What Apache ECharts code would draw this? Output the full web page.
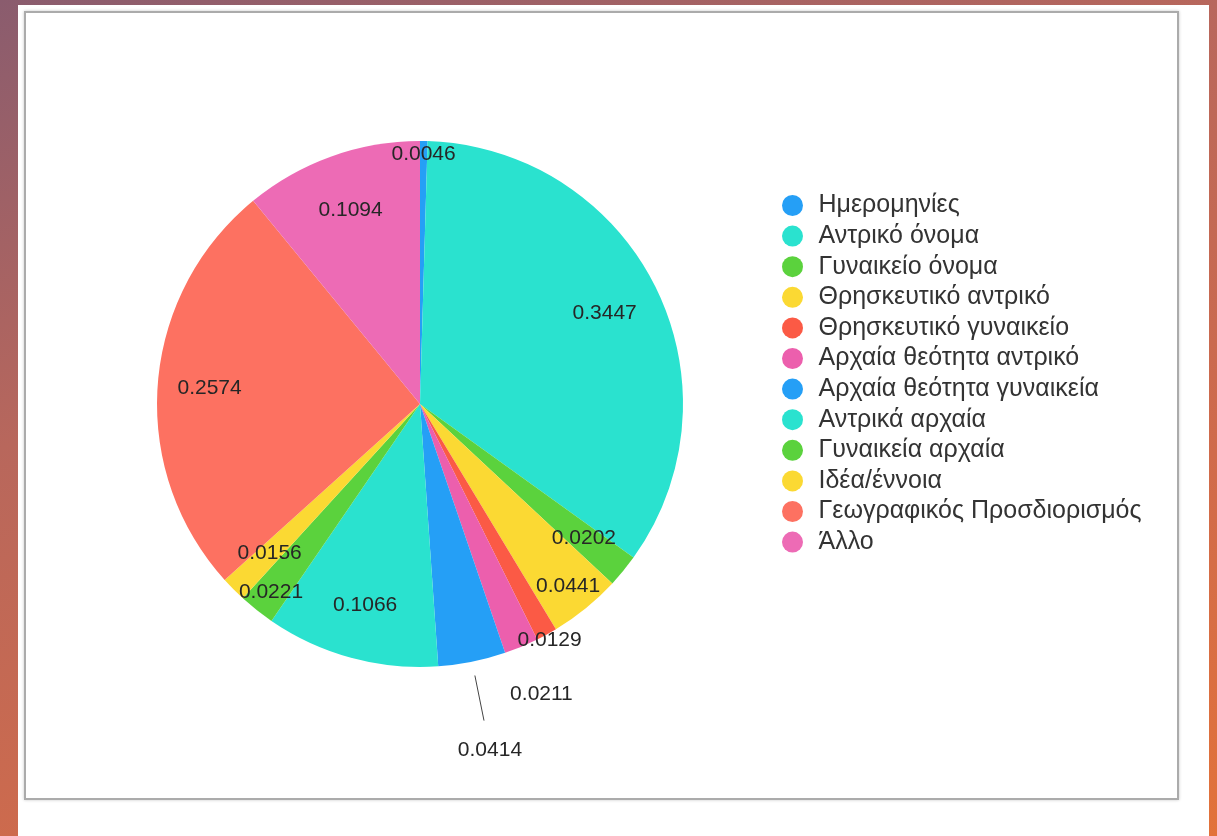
<!DOCTYPE html>
<html lang="el">
<head>
<meta charset="UTF-8">
<title>Pie</title>
<script src="https://cdn.jsdelivr.net/npm/echarts@6/dist/echarts.min.js"></script>
<style>
  html, body { margin: 0; padding: 0; }
  body {
    width: 1217px; height: 836px; overflow: hidden; position: relative;
    background: linear-gradient(160deg, #8a5c6e 0%, #b8675c 35%, #d06b4b 70%, #e2723a 100%);
  }
  .sheet { position: absolute; left: 18px; top: 5px; width: 1191px; height: 831px; background: #fff; }
  .frame {
    position: absolute; left: 24px; top: 11px; width: 1151px; height: 785px;
    border: 2px solid #ababab; box-shadow: 0 0 3px rgba(0,0,0,0.22);
  }
  #chart { position: absolute; left: 0; top: 0; width: 1217px; height: 836px; }
</style>
</head>
<body>
<div class="sheet"></div>
<div class="frame"></div>
<div id="chart"></div>
<script>
// δεδομένα
const categories = [
  'Ημερομηνίες', 'Αντρικό όνομα', 'Γυναικείο όνομα', 'Θρησκευτικό αντρικό',
  'Θρησκευτικό γυναικείο', 'Αρχαία θεότητα αντρικό', 'Αρχαία θεότητα γυναικεία',
  'Αντρικά αρχαία', 'Γυναικεία αρχαία', 'Ιδέα/έννοια', 'Γεωγραφικός Προσδιορισμός', 'Άλλο'
];
const values = [0.0046, 0.3447, 0.0202, 0.0441, 0.0129, 0.0211, 0.0414, 0.1066, 0.0221, 0.0156, 0.2574, 0.1094];
const colors = ['#259ff6', '#2ae2cf', '#5bd23d', '#fbd933', '#fb5a45', '#ec5fad',
                '#259ff6', '#2ae2cf', '#5bd23d', '#fbd933', '#fd7161', '#ed6bb5'];

// πόσο μακριά από το κέντρο μπαίνει κάθε ετικέτα
const labelRadius = [247, 203, 209, 232, 266, 312, 350, 206, 237, 209, 208, 203];

const center = [420, 404];
const R = 263;
const font = 'Liberation Sans, Arial, sans-serif';

const pieData = categories.map((name, i) => ({
  name, value: values[i], itemStyle: { color: colors[i] }
}));

const series = [{
  type: 'pie',
  center, radius: [0, R],
  startAngle: 90, clockwise: true,
  silent: true,
  label: { show: false }, labelLine: { show: false },
  data: pieData
}];

// μια διάφανη σειρά για κάθε ετικέτα, στη δική της ακτίνα
labelRadius.forEach((r, i) => {
  series.push({
    type: 'pie',
    center, radius: [r - 1, r + 1],
    startAngle: 90, clockwise: true,
    silent: true,
    avoidLabelOverlap: false,
    itemStyle: { color: 'transparent' },
    labelLine: { show: false },
    label: {
      show: true, position: 'inside',
      color: '#262626', fontSize: 21, fontFamily: font,
      formatter: p => p.dataIndex === i ? String(values[i]) : ''
    },
    data: categories.map((name, j) => ({ name, value: values[j] }))
  });
});

// γραμμή για το 0.0414
series.push({
  type: 'pie',
  center, radius: [276, 277],
  startAngle: 90, clockwise: true,
  silent: true,
  avoidLabelOverlap: false,
  itemStyle: { color: 'transparent' },
  label: {
    show: true, position: 'outside', formatter: p => p.dataIndex === 6 ? ' ' : '',
    fontSize: 2
  },
  labelLine: { show: true, length: 46, length2: 0, lineStyle: { color: '#444', width: 1 } },
  data: categories.map((name, j) => ({
    name, value: values[j], labelLine: { show: j === 6 }
  }))
});

const chart = echarts.init(document.getElementById('chart'));
chart.setOption({
  animation: false,
  legend: {
    orient: 'vertical', left: 777, top: 188,
    icon: 'circle', itemWidth: 36, itemHeight: 21, itemGap: 5.6,
    textStyle: { color: '#333', fontSize: 25, fontFamily: font, padding: [0, 0, 0, 3] },
    data: categories
  },
  series
});
</script>
</body>
</html>
